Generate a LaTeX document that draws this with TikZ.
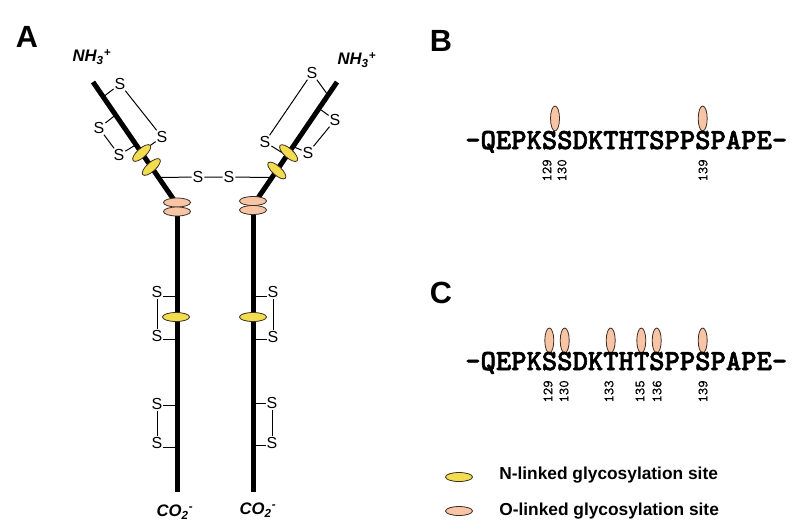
\documentclass[tikz,border=0pt]{standalone}
\usepackage{fontspec}
\setmainfont{Liberation Sans}
\newfontfamily\seqfont{lmmonolt10-bold.otf}[FakeBold=2]
\newfontfamily\numfont{lmmono10-regular.otf}[FakeBold=0.8]
\usetikzlibrary{shapes.geometric,calc}
\definecolor{nyel}{RGB}{242,220,80}
\definecolor{opch}{RGB}{248,196,166}
\definecolor{edge}{RGB}{60,45,35}
\begin{document}
\begin{tikzpicture}[x=0.75pt,y=-0.75pt,
  heavy/.style={line width=3.75pt},
  thinl/.style={line width=0.75pt},
  ss/.style={font=\fontsize{12}{12}\selectfont, inner sep=0.6pt},
  panel/.style={font=\fontsize{23}{23}\selectfont\bfseries},
  term/.style={font=\fontsize{12.5}{13}\selectfont\bfseries\itshape},
  nglyc/.style={ellipse, draw=edge, line width=0.6pt, fill=nyel, minimum width=20.25pt, minimum height=6.75pt, inner sep=0pt},
  oglyc/.style={ellipse, draw=edge, line width=0.6pt, fill=opch, minimum width=20.25pt, minimum height=6.75pt, inner sep=0pt},
  armglyc/.style={nglyc, minimum width=17.25pt},
  vglyc/.style={ellipse, draw=edge, line width=0.6pt, fill=opch, minimum width=6.75pt, minimum height=18.75pt, inner sep=0pt},
  seq/.style={anchor=base west, inner sep=0pt, font=\fontsize{21.9}{22}\selectfont\seqfont},
  num/.style={rotate=90, anchor=east, inner sep=0pt, font=\fontsize{10.6}{11}\selectfont\numfont},
  legtext/.style={anchor=west, inner sep=0pt, font=\fontsize{13}{14}\selectfont\bfseries}]
\useasboundingbox (0,0) rectangle (805,529);

% ---------- panel labels ----------
\node[panel] (labA) at (27,37) {A};
\node[panel] (labB) at (441,41) {B};
\node[panel] (labC) at (441,293) {C};

% ---------- termini ----------
\node[term] (nl) at (92,57) {NH\textsubscript{3}\textsuperscript{+}};
\node[term] (nr) at (357,60) {NH\textsubscript{3}\textsuperscript{+}};
\node[term] (cl) at (175,512) {CO\textsubscript{2}\textsuperscript{-}};
\node[term] (cr) at (258,510) {CO\textsubscript{2}\textsuperscript{-}};

% ---------- backbone coordinates ----------
\coordinate (L0) at (93,82);
\coordinate (L1) at (174,200);
\coordinate (R0) at (337,82);
\coordinate (R1) at (258,198);
\coordinate (LC0) at (177,205);
\coordinate (LC1) at (177,492);
\coordinate (RC0) at (253,203);
\coordinate (RC1) at (253,492);

% ---------- left arm disulfides ----------
\coordinate (lp1) at (103.2,96.9);
\coordinate (lp2) at (141.1,152.1);
\coordinate (lp3) at (115.6,115);
\coordinate (lp4) at (136,144.7);
\node[ss] (ls1) at (120,84) {S};
\node[ss] (ls2) at (162,137) {S};
\node[ss] (ls3) at (99,128) {S};
\node[ss] (ls4) at (119,155) {S};
\draw[thinl] (lp1) -- (ls1) -- (ls2) -- (lp2);
\draw[thinl] (lp3) -- (ls3) -- (ls4) -- (lp4);

% ---------- right arm disulfides ----------
\coordinate (rp1) at (328,95.2);
\coordinate (rp2) at (286.9,155.6);
\coordinate (rp3) at (319,108.5);
\coordinate (rp4) at (293.1,146.5);
\node[ss] (rs1) at (312,73) {S};
\node[ss] (rs2) at (265,142) {S};
\node[ss] (rs3) at (335,120) {S};
\node[ss] (rs4) at (308,153) {S};
\draw[thinl] (rp1) -- (rs1) -- (rs2) -- (rp2);
\draw[thinl] (rp3) -- (rs3) -- (rs4) -- (rp4);

% ---------- inter-chain disulfide ----------
\coordinate (ic1) at (158.5,177.5);
\coordinate (ic2) at (272,177.5);
\node[ss] (is1) at (198,177) {S};
\node[ss] (is2) at (229,177) {S};
\draw[thinl] (ic1) -- (is1) -- (is2) -- (ic2);

% ---------- chain disulfides (left) ----------
\node[ss] (la1) at (157,292) {S};
\node[ss] (la2) at (157,336) {S};
\node[ss] (lb1) at (157,404) {S};
\node[ss] (lb2) at (157,443) {S};
\coordinate (lca1) at (177,296);
\coordinate (lca2) at (177,339);
\coordinate (lcb1) at (177,405.7);
\coordinate (lcb2) at (177,447.5);
\draw[thinl] (lca1) -- (lca1 -| la1.east);
\draw[thinl] (la1.south) -- (la2.north);
\draw[thinl] (lca2) -- (lca2 -| la2.east);
\draw[thinl] (lcb1) -- (lcb1 -| lb1.east);
\draw[thinl] (lb1.south) -- (lb2.north);
\draw[thinl] (lcb2) -- (lcb2 -| lb2.east);

% ---------- chain disulfides (right) ----------
\node[ss] (ra1) at (273,292) {S};
\node[ss] (ra2) at (273,336.5) {S};
\node[ss] (rb1) at (272,403) {S};
\node[ss] (rb2) at (272,443) {S};
\coordinate (rca1) at (253,296);
\coordinate (rca2) at (253,339);
\coordinate (rcb1) at (253,403.3);
\coordinate (rcb2) at (253,445);
\draw[thinl] (rca1) -- (rca1 -| ra1.west);
\draw[thinl] (ra1.south) -- (ra2.north);
\draw[thinl] (rca2) -- (rca2 -| ra2.west);
\draw[thinl] (rcb1) -- (rcb1 -| rb1.west);
\draw[thinl] (rb1.south) -- (rb2.north);
\draw[thinl] (rcb2) -- (rcb2 -| rb2.west);

% ---------- heavy backbones ----------
\draw[heavy] (L0) -- (L1);
\draw[heavy] (R0) -- (R1);
\draw[heavy] (LC0) -- (LC1);
\draw[heavy] (RC0) -- (RC1);

% ---------- glycosylation on the diagram ----------
\node[armglyc, rotate=42] (ly1) at (141.7,153) {};
\node[armglyc, rotate=42] (ly2) at (151.3,167) {};
\node[armglyc, rotate=-42] (ry1) at (288.6,153.1) {};
\node[armglyc, rotate=-42] (ry2) at (276.8,170.5) {};
\node[oglyc] (lo1) at (177,202.5) {};
\node[oglyc] (lo2) at (177,211.5) {};
\node[oglyc] (ro1) at (253,201) {};
\node[oglyc] (ro2) at (253,210) {};
\node[nglyc] (lyc) at (176,317) {};
\node[nglyc] (ryc) at (253,317) {};

% ---------- panel B ----------
\node[vglyc] (bo1) at (555,118.5) {};
\node[vglyc] (bo2) at (702.7,118.5) {};
\node[seq] (seqB) at (465,149) {-QEPKSSDKTHTSPPSPAPE-};
\node[num] (bn1) at (547,159) {129};
\node[num] (bn2) at (562,159) {130};
\node[num] (bn3) at (703,159) {139};

% ---------- panel C ----------
\node[vglyc] (co1) at (549.3,340.5) {};
\node[vglyc] (co2) at (564.7,340.5) {};
\node[vglyc] (co3) at (610.7,340.5) {};
\node[vglyc] (co4) at (641.3,340.5) {};
\node[vglyc] (co5) at (656.7,340.5) {};
\node[vglyc] (co6) at (702.7,340.5) {};
\node[seq] (seqC) at (465,370) {-QEPKSSDKTHTSPPSPAPE-};
\node[num] (cn1) at (548,380) {129};
\node[num] (cn2) at (564,380) {130};
\node[num] (cn3) at (609,380) {133};
\node[num] (cn4) at (640,380) {135};
\node[num] (cn5) at (657,380) {136};
\node[num] (cn6) at (703,380) {139};

% ---------- legend ----------
\node[nglyc] (legN) at (459,477) {};
\node[oglyc] (legO) at (459,511) {};
\node[legtext] (legNt) at (499,475.5) {N-linked glycosylation site};
\node[legtext] (legOt) at (499,511) {O-linked glycosylation site};
\end{tikzpicture}
\end{document}
